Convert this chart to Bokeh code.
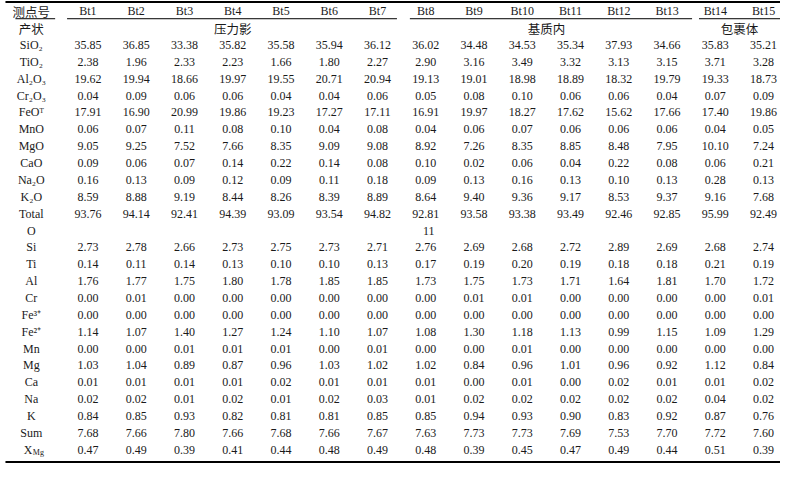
from bokeh.plotting import figure
from bokeh.models import Range1d, ColumnDataSource
from bokeh.core.properties import value
from bokeh.embed import file_html
from bokeh.resources import INLINE

# ---------------- data ----------------
samples = ["Bt1", "Bt2", "Bt3", "Bt4", "Bt5", "Bt6", "Bt7", "Bt8", "Bt9", "Bt10",
           "Bt11", "Bt12", "Bt13", "Bt14", "Bt15"]
groups = ["压力影", "基质内", "包裹体"]
group_first = [0, 7, 13]
group_last = [6, 12, 14]

oxide_labels = ["SiO₂", "TiO₂", "Al₂O₃", "Cr₂O₃", "FeOᵀ", "MnO", "MgO", "CaO", "Na₂O", "K₂O", "Total"]
SiO2 = [35.85, 36.85, 33.38, 35.82, 35.58, 35.94, 36.12, 36.02, 34.48, 34.53, 35.34, 37.93, 34.66, 35.83, 35.21]
TiO2 = [2.38, 1.96, 2.33, 2.23, 1.66, 1.80, 2.27, 2.90, 3.16, 3.49, 3.32, 3.13, 3.15, 3.71, 3.28]
Al2O3 = [19.62, 19.94, 18.66, 19.97, 19.55, 20.71, 20.94, 19.13, 19.01, 18.98, 18.89, 18.32, 19.79, 19.33, 18.73]
Cr2O3 = [0.04, 0.09, 0.06, 0.06, 0.04, 0.04, 0.06, 0.05, 0.08, 0.10, 0.06, 0.06, 0.04, 0.07, 0.09]
FeOT = [17.91, 16.90, 20.99, 19.86, 19.23, 17.27, 17.11, 16.91, 19.97, 18.27, 17.62, 15.62, 17.66, 17.40, 19.86]
MnO = [0.06, 0.07, 0.11, 0.08, 0.10, 0.04, 0.08, 0.04, 0.06, 0.07, 0.06, 0.06, 0.06, 0.04, 0.05]
MgO = [9.05, 9.25, 7.52, 7.66, 8.35, 9.09, 9.08, 8.92, 7.26, 8.35, 8.85, 8.48, 7.95, 10.10, 7.24]
CaO = [0.09, 0.06, 0.07, 0.14, 0.22, 0.14, 0.08, 0.10, 0.02, 0.06, 0.04, 0.22, 0.08, 0.06, 0.21]
Na2O = [0.16, 0.13, 0.09, 0.12, 0.09, 0.11, 0.18, 0.09, 0.13, 0.16, 0.13, 0.10, 0.13, 0.28, 0.13]
K2O = [8.59, 8.88, 9.19, 8.44, 8.26, 8.39, 8.89, 8.64, 9.40, 9.36, 9.17, 8.53, 9.37, 9.16, 7.68]
Total = [93.76, 94.14, 92.41, 94.39, 93.09, 93.54, 94.82, 92.81, 93.58, 93.38, 93.49, 92.46, 92.85, 95.99, 92.49]

oxygen_label = "O"
oxygen_basis = 11
oxygen_col = 7

cation_labels = ["Si", "Ti", "Al", "Cr", "Fe³⁺", "Fe²⁺", "Mn", "Mg", "Ca", "Na", "K", "Sum"]
Si = [2.73, 2.78, 2.66, 2.73, 2.75, 2.73, 2.71, 2.76, 2.69, 2.68, 2.72, 2.89, 2.69, 2.68, 2.74]
Ti = [0.14, 0.11, 0.14, 0.13, 0.10, 0.10, 0.13, 0.17, 0.19, 0.20, 0.19, 0.18, 0.18, 0.21, 0.19]
Al = [1.76, 1.77, 1.75, 1.80, 1.78, 1.85, 1.85, 1.73, 1.75, 1.73, 1.71, 1.64, 1.81, 1.70, 1.72]
Cr = [0.00, 0.01, 0.00, 0.00, 0.00, 0.00, 0.00, 0.00, 0.01, 0.01, 0.00, 0.00, 0.00, 0.00, 0.01]
Fe3 = [0.00, 0.00, 0.00, 0.00, 0.00, 0.00, 0.00, 0.00, 0.00, 0.00, 0.00, 0.00, 0.00, 0.00, 0.00]
Fe2 = [1.14, 1.07, 1.40, 1.27, 1.24, 1.10, 1.07, 1.08, 1.30, 1.18, 1.13, 0.99, 1.15, 1.09, 1.29]
Mn = [0.00, 0.00, 0.01, 0.01, 0.01, 0.00, 0.01, 0.00, 0.00, 0.01, 0.00, 0.00, 0.00, 0.00, 0.00]
Mg = [1.03, 1.04, 0.89, 0.87, 0.96, 1.03, 1.02, 1.02, 0.84, 0.96, 1.01, 0.96, 0.92, 1.12, 0.84]
Ca = [0.01, 0.01, 0.01, 0.01, 0.02, 0.01, 0.01, 0.01, 0.00, 0.01, 0.00, 0.02, 0.01, 0.01, 0.02]
Na = [0.02, 0.02, 0.01, 0.02, 0.01, 0.02, 0.03, 0.01, 0.02, 0.02, 0.02, 0.02, 0.02, 0.04, 0.02]
K = [0.84, 0.85, 0.93, 0.82, 0.81, 0.81, 0.85, 0.85, 0.94, 0.93, 0.90, 0.83, 0.92, 0.87, 0.76]
Sum = [7.68, 7.66, 7.80, 7.66, 7.68, 7.66, 7.67, 7.63, 7.73, 7.73, 7.69, 7.53, 7.70, 7.72, 7.60]
XMg = [0.47, 0.49, 0.39, 0.41, 0.44, 0.48, 0.49, 0.48, 0.39, 0.45, 0.47, 0.49, 0.44, 0.51, 0.39]

oxide_values = [SiO2, TiO2, Al2O3, Cr2O3, FeOT, MnO, MgO, CaO, Na2O, K2O, Total]
cation_values = [Si, Ti, Al, Cr, Fe3, Fe2, Mn, Mg, Ca, Na, K, Sum]

# ---------------- layout ----------------
W, H = 780, 463
label_x = 31
col_x0, col_dx = 88, 48.57
row_y0, row_dy = 15, 17.115
col_x = [col_x0 + col_dx * i for i in range(len(samples))]
def row_y(i):
    return row_y0 + row_dy * i

SERIF = value("Liberation Serif")
CJK = value("Noto Sans CJK SC")
INK = "#1a1a1a"

p = figure(width=W, height=H, x_range=Range1d(0, 785), y_range=Range1d(474, 4),
           output_backend="svg", toolbar_location=None, min_border=0,
           x_axis_type=None, y_axis_type=None)
p.grid.visible = False
p.outline_line_color = None
p.background_fill_color = "white"
p.border_fill_color = "white"

# rules
p.segment(x0=[5, 5], y0=[5.5, 472.5], x1=[790, 790], y1=[5.5, 472.5], line_color="black", line_width=2)
seg_x0 = [15, 67, 412, 703]
seg_x1 = [55, 399, 696, 785]
p.segment(x0=seg_x0, y0=[22.5] * 4, x1=seg_x1, y1=[22.5] * 4, line_color="black", line_width=1)

# header texts
p.text(x=[label_x], y=[row_y(0)], text=["测点号"], text_font=CJK, text_font_size="12.5px",
       text_align="center", text_baseline="middle", text_color=INK)
p.text(x=[label_x], y=[row_y(1)], text=["产状"], text_font=CJK, text_font_size="12.5px",
       text_align="center", text_baseline="middle", text_color=INK)
p.text(x=col_x, y=[row_y(0)] * len(samples), text=samples, text_font=SERIF, text_font_size="12px",
       text_align="center", text_baseline="middle", text_color=INK)
gx = [(col_x[a] + col_x[b]) / 2 for a, b in zip(group_first, group_last)]
p.text(x=gx, y=[row_y(1)] * 3, text=groups, text_font=CJK, text_font_size="12.5px",
       text_align="center", text_baseline="middle", text_color=INK)

# body
lx, ly, lt = [], [], []
vx, vy, vt = [], [], []
r = 2
for lab, vals in zip(oxide_labels, oxide_values):
    lx.append(label_x); ly.append(row_y(r)); lt.append(lab)
    for j, v in enumerate(vals):
        vx.append(col_x[j]); vy.append(row_y(r)); vt.append(f"{v:.2f}")
    r += 1
lx.append(label_x); ly.append(row_y(r)); lt.append(oxygen_label)
vx.append(col_x[oxygen_col] + 3); vy.append(row_y(r)); vt.append(str(oxygen_basis))
r += 1
for lab, vals in zip(cation_labels, cation_values):
    lx.append(label_x); ly.append(row_y(r)); lt.append(lab)
    for j, v in enumerate(vals):
        vx.append(col_x[j]); vy.append(row_y(r)); vt.append(f"{v:.2f}")
    r += 1
# X_Mg row
for j, v in enumerate(XMg):
    vx.append(col_x[j]); vy.append(row_y(r)); vt.append(f"{v:.2f}")
p.text(x=[label_x + 1], y=[row_y(r)], text=["X"], text_font=SERIF, text_font_size="12px",
       text_align="right", text_baseline="middle", text_color=INK)
p.text(x=[label_x + 1.5], y=[row_y(r) + 3], text=["Mg"], text_font=SERIF, text_font_size="8px",
       text_align="left", text_baseline="middle", text_color=INK)

p.text(x="x", y="y", text="t", source=ColumnDataSource(dict(x=lx, y=ly, t=lt)),
       text_font=SERIF, text_font_size="12px", text_align="center", text_baseline="middle", text_color=INK)
p.text(x="x", y="y", text="t", source=ColumnDataSource(dict(x=vx, y=vy, t=vt)),
       text_font=SERIF, text_font_size="12px", text_align="center", text_baseline="middle", text_color=INK)

open("out.html", "w").write(file_html(p, INLINE))
